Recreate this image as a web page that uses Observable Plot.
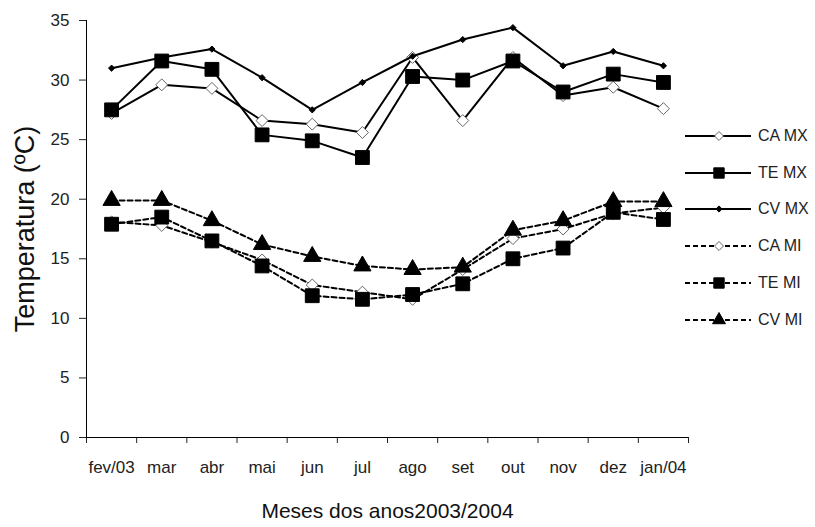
<!DOCTYPE html>
<html>
<head>
<meta charset="utf-8">
<script src="https://cdn.jsdelivr.net/npm/d3@7"></script>
<script src="https://cdn.jsdelivr.net/npm/@observablehq/plot@0.6"></script>
<style>
  body { margin: 0; background: white; }
  #wrap { position: relative; width: 815px; height: 527px; font-family: "Liberation Sans", Arial, sans-serif; }
  #legend { position: absolute; left: 684px; top: 0; }
  .item { position: absolute; left: 0; width: 131px; height: 20px; display: flex; align-items: center; }
  .item span { font-size: 16px; color: #222; margin-left: 6px; white-space: nowrap; }
</style>
</head>
<body>
<div id="wrap"><div id="chart"></div><div id="legend"></div></div>
<script>
const months = ["fev/03","mar","abr","mai","jun","jul","ago","set","out","nov","dez","jan/04"];
const seriesNames = ["CA MX","TE MX","CV MX","CA MI","TE MI","CV MI"];
const caMX = [27.2, 29.6, 29.3, 26.6, 26.3, 25.6, 31.9, 26.6, 31.9, 28.7, 29.4, 27.6];
const teMX = [27.5, 31.6, 30.9, 25.4, 24.9, 23.5, 30.3, 30.0, 31.6, 29.0, 30.5, 29.8];
const cvMX = [31.0, 31.9, 32.6, 30.2, 27.5, 29.8, 32.0, 33.4, 34.4, 31.2, 32.4, 31.2];
const caMI = [18.1, 17.8, 16.4, 14.9, 12.8, 12.2, 11.6, 14.1, 16.7, 17.5, 18.8, 19.3];
const teMI = [17.9, 18.5, 16.5, 14.4, 11.9, 11.6, 12.0, 12.9, 15.0, 15.9, 18.9, 18.3];
const cvMI = [19.9, 19.9, 18.2, 16.2, 15.2, 14.4, 14.1, 14.3, 17.4, 18.2, 19.8, 19.8];
const yTicks = [0, 5, 10, 15, 20, 25, 30, 35];

const styles = [
  {symbol: "diamond2", fill: "white", stroke: "#666", r: 5.4, dash: null},
  {symbol: "square", fill: "black", stroke: "black", r: 7.8, dash: null},
  {symbol: "diamond2", fill: "black", stroke: "black", r: 2.8, dash: null},
  {symbol: "diamond2", fill: "white", stroke: "#666", r: 5.4, dash: "5,3"},
  {symbol: "square", fill: "black", stroke: "black", r: 7.8, dash: "5,3"},
  {symbol: "triangle", fill: "black", stroke: "black", r: 6.4, dash: "5,3"}
];
const values = [caMX, teMX, cvMX, caMI, teMI, cvMI];

const marks = [];
seriesNames.forEach((name, k) => {
  const rows = values[k].map((v, i) => ({name, i, v}));
  const s = styles[k];
  marks.push(Plot.line(rows, {x: "i", y: "v", stroke: "black", strokeWidth: 2, strokeDasharray: s.dash}));
  marks.push(Plot.dot(rows, {x: "i", y: "v", symbol: s.symbol, r: s.r, fill: s.fill, stroke: s.stroke, strokeWidth: 1}));
});

const chart = Plot.plot({
  width: 815, height: 527,
  marginLeft: 86, marginRight: 127, marginTop: 20, marginBottom: 90,
  x: {domain: [-0.5, 11.5]},
  y: {domain: [0, 35]},
  style: {fontFamily: "'Liberation Sans', Arial, sans-serif", fontSize: "17px", color: "#222", background: "white"},
  marks: [
    Plot.axisY({ticks: yTicks, tickSize: 7, tickPadding: 10, tickFormat: d => d, label: null}),
    Plot.axisX({ticks: d3.range(-0.5, 12, 1), tickSize: 6, tickFormat: () => "", label: null}),
    Plot.axisX({ticks: d3.range(0, 12), tickSize: 0, tickPadding: 23, tickFormat: i => months[i], label: null}),
    Plot.ruleX([-0.5], {stroke: "black"}),
    Plot.ruleY([0], {stroke: "black"}),
    ...marks,
    Plot.text(["Meses dos anos2003/2004"], {frameAnchor: "bottom", dy: 80, lineAnchor: "bottom", fontSize: 21, fill: "#111"}),
    Plot.text(["Temperatura (ºC)"], {frameAnchor: "left", dx: -61, rotate: -90, textAnchor: "middle", fontSize: 27, fill: "#111"})
  ]
});
document.getElementById("chart").appendChild(chart);

// legend
const legend = document.getElementById("legend");
const legendY = [136, 173, 209, 246, 283, 320];
seriesNames.forEach((name, k) => {
  const s = styles[k];
  const item = document.createElement("div");
  item.className = "item";
  item.style.top = (legendY[k] - 10) + "px";
  const svg = d3.create("svg").attr("width", 68).attr("height", 20);
  svg.append("line").attr("x1", 1).attr("x2", 67).attr("y1", 10).attr("y2", 10)
    .attr("stroke", "black").attr("stroke-width", 2).attr("stroke-dasharray", s.dash);
  const symType = {diamond2: d3.symbolDiamond2, square: d3.symbolSquare, triangle: d3.symbolTriangle}[s.symbol];
  const rr = k === 2 ? s.r : s.r * 0.75;
  svg.append("path").attr("transform", "translate(35,10)")
    .attr("d", d3.symbol(symType, Math.PI * rr * rr)())
    .attr("fill", s.fill).attr("stroke", s.stroke);
  item.appendChild(svg.node());
  const span = document.createElement("span");
  span.textContent = name;
  item.appendChild(span);
  legend.appendChild(item);
});
</script>
</body>
</html>
